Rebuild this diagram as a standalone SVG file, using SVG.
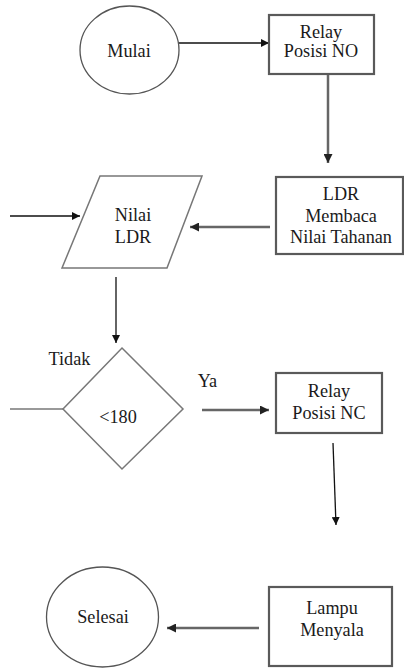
<svg xmlns="http://www.w3.org/2000/svg" width="404" height="668" viewBox="0 0 404 668">
<defs>
<marker id="ah" viewBox="0 0 10 10" refX="10" refY="5" markerWidth="8" markerHeight="8" markerUnits="userSpaceOnUse" orient="auto">
<path d="M0,0 L10,5 L0,10 Z" fill="#111"/>
</marker>
<marker id="ahg" viewBox="0 0 10 10" refX="10" refY="5" markerWidth="9" markerHeight="9" markerUnits="userSpaceOnUse" orient="auto">
<path d="M0,0 L10,5 L0,10 Z" fill="#222"/>
</marker>
</defs>
<style>
text{font-family:"Liberation Serif","Times New Roman",serif;font-size:18.2px;fill:#1a1a1a;text-anchor:middle}
.box{fill:#fff;stroke:#5a5a5a;stroke-width:2.2}
.oval{fill:#fff;stroke:#555;stroke-width:1.3}
.shape{fill:#fff;stroke:#777;stroke-width:1.5}
.ln{fill:none;stroke:#111;stroke-width:1.3}
.lg{fill:none;stroke:#666;stroke-width:2.5}
</style>
<rect width="404" height="668" fill="#fff"/>
<g id="connectors">
<line class="ln" x1="171" y1="43" x2="269" y2="43" marker-end="url(#ah)"/>
<line class="lg" x1="328" y1="74" x2="328" y2="163" marker-end="url(#ahg)"/>
<line class="lg" x1="270" y1="227" x2="190" y2="227" marker-end="url(#ahg)"/>
<line class="ln" x1="10" y1="216" x2="80" y2="216" marker-end="url(#ah)"/>
<line class="ln" x1="116" y1="277" x2="116" y2="343" marker-end="url(#ah)"/>
<line class="shape" x1="10" y1="409" x2="63" y2="409"/>
<line class="lg" x1="202" y1="410" x2="269" y2="410" stroke="#444" marker-end="url(#ahg)"/>
<line class="ln" x1="333" y1="443" x2="336" y2="525" stroke="#333" marker-end="url(#ah)"/>
<line class="lg" x1="259" y1="628" x2="167" y2="628" marker-end="url(#ahg)"/>
</g>
<g id="mulai">
<ellipse class="oval" cx="129.5" cy="50" rx="49.5" ry="44"/>
<text x="129" y="57">Mulai</text>
</g>
<g id="relay-no">
<rect class="box" x="269" y="15" width="105" height="59"/>
<text x="321" y="38">Relay</text>
<text x="321" y="57">Posisi NO</text>
</g>
<g id="ldr-membaca">
<rect class="box" x="276" y="177" width="127" height="77"/>
<text x="341" y="200">LDR</text>
<text x="341" y="222">Membaca</text>
<text x="341" y="243">Nilai Tahanan</text>
</g>
<g id="nilai-ldr">
<polygon class="shape" points="100,176 202,176 167,268 62,268"/>
<text x="133" y="221">Nilai</text>
<text x="133" y="243">LDR</text>
</g>
<g id="decision">
<polygon class="shape" points="122,348 183,409 122,469 63,409"/>
<text x="118" y="423">&lt;180</text>
<text x="69.5" y="365">Tidak</text>
<text x="207.5" y="387">Ya</text>
</g>
<g id="relay-nc">
<rect class="box" x="276" y="373" width="106" height="60"/>
<text x="329" y="397">Relay</text>
<text x="329" y="419">Posisi NC</text>
</g>
<g id="lampu">
<rect class="box" x="269" y="587" width="123" height="79"/>
<text x="332" y="614">Lampu</text>
<text x="332" y="636">Menyala</text>
</g>
<g id="selesai">
<ellipse class="oval" cx="102.5" cy="617" rx="56" ry="50"/>
<text x="103" y="623">Selesai</text>
</g>
</svg>
